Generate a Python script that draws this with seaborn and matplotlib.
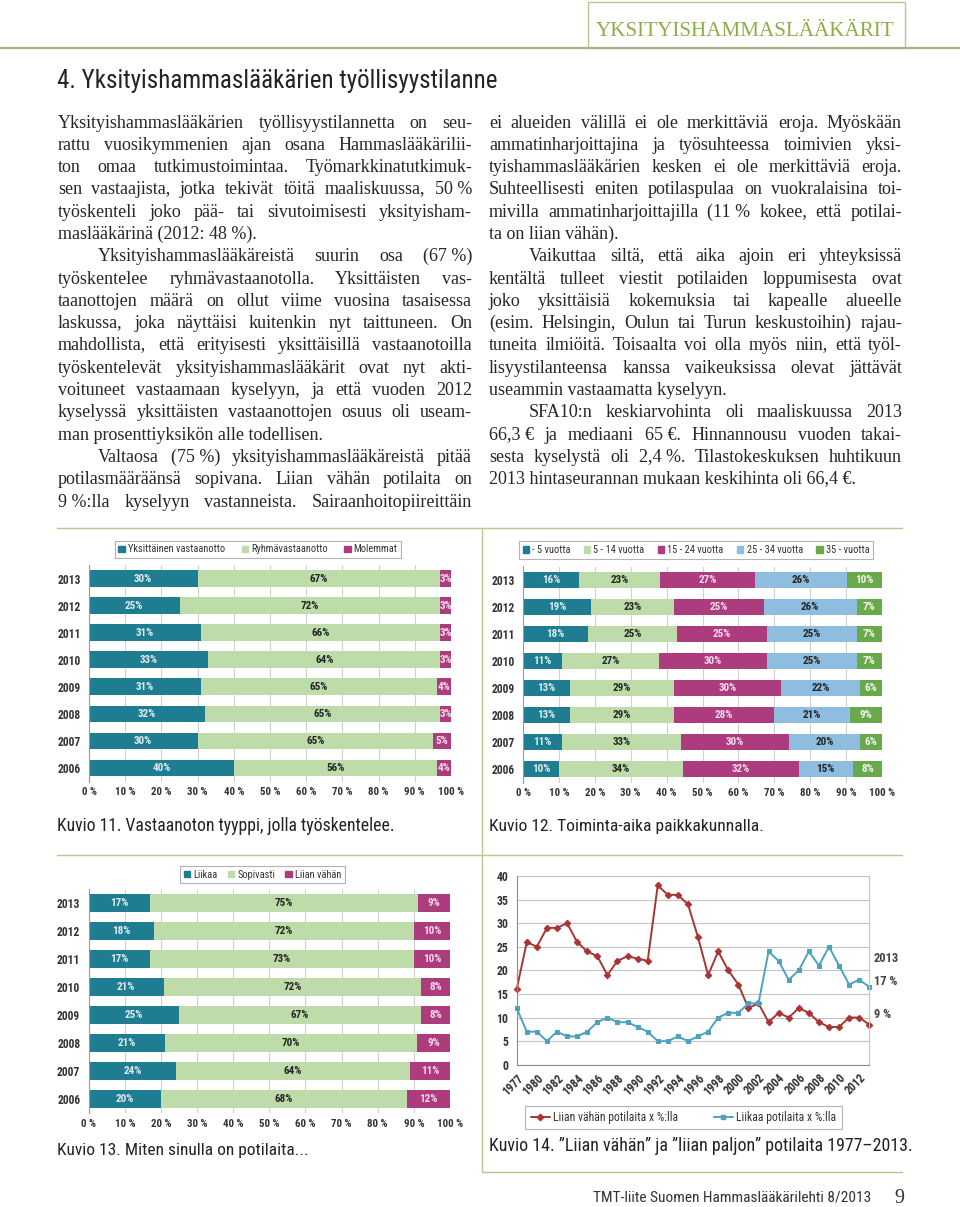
import numpy as np
import pandas as pd
import matplotlib
matplotlib.use("Agg")
import matplotlib.pyplot as plt
import seaborn as sns
from matplotlib import font_manager
from matplotlib.font_manager import FontProperties
from matplotlib.patches import Patch, Rectangle
from matplotlib.lines import Line2D


#--------------------Data-----------------------------------------
years = ["2013", "2012", "2011", "2010", "2009", "2008", "2007", "2006"]
pct_ticks = [0, 10, 20, 30, 40, 50, 60, 70, 80, 90, 100]

# Kuvio 11
k11_names = ["Yksittäinen vastaanotto", "Ryhmävastaanotto", "Molemmat"]
k11_single = [30, 25, 31, 33, 31, 32, 30, 40]
k11_group = [67, 72, 66, 64, 65, 65, 65, 56]
k11_both = [3, 3, 3, 3, 4, 3, 5, 4]

# Kuvio 12
k12_names = ["- 5 vuotta", "5 - 14 vuotta", "15 - 24 vuotta", "25 - 34 vuotta", "35 - vuotta"]
k12_under5 = [16, 19, 18, 11, 13, 13, 11, 10]
k12_5_14 = [23, 23, 25, 27, 29, 29, 33, 34]
k12_15_24 = [27, 25, 25, 30, 30, 28, 30, 32]
k12_25_34 = [26, 26, 25, 25, 22, 21, 20, 15]
k12_over35 = [10, 7, 7, 7, 6, 9, 6, 8]

# Kuvio 13
k13_names = ["Liikaa", "Sopivasti", "Liian vähän"]
k13_too_many = [17, 18, 17, 21, 25, 21, 24, 20]
k13_ok = [75, 72, 73, 72, 67, 70, 64, 68]
k13_too_few = [9, 10, 10, 8, 8, 9, 11, 12]

# Kuvio 14 (no survey in 1978)
k14_years = ["1977", "1979", "1980", "1981", "1982", "1983", "1984", "1985", "1986",
             "1987", "1988", "1989", "1990", "1991", "1992", "1993", "1994", "1995",
             "1996", "1997", "1998", "1999", "2000", "2001", "2002", "2003", "2004",
             "2005", "2006", "2007", "2008", "2009", "2010", "2011", "2012", "2013"]
k14_too_few = [16, 26, 25, 29, 29, 30, 26, 24, 23, 19, 22, 23, 22.5, 22, 38, 36, 36, 34,
               27, 19, 24, 20, 17, 12, 13, 9, 11, 10, 12, 11, 9, 8, 8, 10, 10, 8.5]
k14_too_many = [12, 7, 7, 5, 7, 6, 6, 7, 9, 10, 9, 9, 8, 7, 5, 5, 6, 5,
                6, 7, 10, 11, 11, 13, 13, 24, 22, 18, 20, 24, 21, 25, 21, 17, 18, 16.5]
k14_names = ["Liian vähän potilaita x %:lla", "Liikaa potilaita x %:lla"]
k14_yticks = [0, 5, 10, 15, 20, 25, 30, 35, 40]

#--------------------Body text-----------------------
left_lines = [
    ("J", "Yksityishammaslääkärien työllisyystilannetta on seu-"),
    ("J", "rattu vuosikymmenien ajan osana Hammaslääkärilii-"),
    ("J", "ton omaa tutkimustoimintaa. Työmarkkinatutkimuk-"),
    ("J", "sen vastaajista, jotka tekivät töitä maaliskuussa, 50 %"),
    ("J", "työskenteli joko pää- tai sivutoimisesti yksityisham-"),
    ("L", "maslääkärinä (2012: 48 %)."),
    ("I", "Yksityishammaslääkäreistä suurin osa (67 %)"),
    ("J", "työskentelee ryhmävastaanotolla. Yksittäisten vas-"),
    ("J", "taanottojen määrä on ollut viime vuosina tasaisessa"),
    ("J", "laskussa, joka näyttäisi kuitenkin nyt taittuneen. On"),
    ("J", "mahdollista, että erityisesti yksittäisillä vastaanotoilla"),
    ("J", "työskentelevät yksityishammaslääkärit ovat nyt akti-"),
    ("J", "voituneet vastaamaan kyselyyn, ja että vuoden 2012"),
    ("J", "kyselyssä yksittäisten vastaanottojen osuus oli useam-"),
    ("L", "man prosenttiyksikön alle todellisen."),
    ("I", "Valtaosa (75 %) yksityishammaslääkäreistä pitää"),
    ("J", "potilasmääräänsä sopivana. Liian vähän potilaita on"),
    ("J", "9 %:lla kyselyyn vastanneista. Sairaanhoitopiireittäin"),
]
right_lines = [
    ("J", "ei alueiden välillä ei ole merkittäviä eroja. Myöskään"),
    ("J", "ammatinharjoittajina ja työsuhteessa toimivien yksi-"),
    ("J", "tyishammaslääkärien kesken ei ole merkittäviä eroja."),
    ("J", "Suhteellisesti eniten potilaspulaa on vuokralaisina toi-"),
    ("J", "mivilla ammatinharjoittajilla (11 % kokee, että potilai-"),
    ("L", "ta on liian vähän)."),
    ("I", "Vaikuttaa siltä, että aika ajoin eri yhteyksissä"),
    ("J", "kentältä tulleet viestit potilaiden loppumisesta ovat"),
    ("J", "joko yksittäisiä kokemuksia tai kapealle alueelle"),
    ("J", "(esim. Helsingin, Oulun tai Turun keskustoihin) rajau-"),
    ("J", "tuneita ilmiöitä. Toisaalta voi olla myös niin, että työl-"),
    ("J", "lisyystilanteensa kanssa vaikeuksissa olevat jättävät"),
    ("L", "useammin vastaamatta kyselyyn."),
    ("I", "SFA10:n keskiarvohinta oli maaliskuussa 2013"),
    ("J", "66,3 € ja mediaani 65 €. Hinnannousu vuoden takai-"),
    ("J", "sesta kyselystä oli 2,4 %. Tilastokeskuksen huhtikuun"),
    ("L", "2013 hintaseurannan mukaan keskihinta oli 66,4 €."),
]

#--------------------Colours and fonts-----------------------
teal = "#1f7d91"
light_green = "#bddca9"
magenta = "#ad3c7e"
light_blue = "#8fbde0"
green = "#69a94b"
red_line = "#a83434"
blue_line = "#4da2c0"
rule_col = "#bcc48f"
ink = "#262626"
on_dark = "#dceaef"
on_magenta = "#f5dbe8"

sns.set_style("white")
installed = {f.name for f in font_manager.fontManager.ttflist}
cond = next((n for n in ["Liberation Sans Narrow", "Roboto Condensed", "Open Sans Condensed",
                         "Liberation Sans"] if n in installed), "DejaVu Sans")
serif = "Liberation Serif"
plt.rcParams["font.family"] = [cond, "DejaVu Sans"]

W, H = 960, 1207
fig = plt.figure(figsize=(W / 100, H / 100), dpi=100)
renderer = fig.canvas.get_renderer()


def fx(x):
    return x / W


def fy(y):
    return 1 - y / H


def px_axes(left, top, right, bottom):
    return fig.add_axes([fx(left), fy(bottom), (right - left) / W, (bottom - top) / H])


def rule(x0, x1, y0, y1, **kw):
    fig.add_artist(Line2D([fx(x0), fx(x1)], [fy(y0), fy(y1)], transform=fig.transFigure, **kw))


def fit_text(x0, x1, y, s, **kw):
    # scale the font so the text spans x0..x1 like on the page
    t = fig.text(fx(x0), fy(y), s, va="baseline", ha="left", **kw)
    w = t.get_window_extent(renderer).width
    t.set_fontsize(t.get_fontsize() * (x1 - x0) / w)
    return t


def baseline_shift(word, prop):
    # Agg places each word bitmap by its own descent; undo the 1px rounding jump
    _, h, d = renderer.get_text_width_height_descent(word, prop, ismath=False)
    return round(d) - np.floor(h) + np.floor(h - d)


def column(lines, x0, x1, y0, dy, size=13, indent=40):
    prop = FontProperties(family=serif, size=size)
    for i, (kind, s) in enumerate(lines):
        y = round(y0 + i * dy)
        left = x0 + (indent if kind == "I" else 0)
        s = s.replace(" %", "\u00a0%").replace(" €", "\u00a0€")
        words = [s] if kind == "L" else s.split(" ")
        texts = [fig.text(0, fy(y - baseline_shift(w, prop)), w, va="baseline",
                          fontproperties=prop, color=ink) for w in words]
        widths = [t.get_window_extent(renderer).width for t in texts]
        gap = 0 if kind == "L" else (x1 - left - sum(widths)) / (len(words) - 1)
        x = left
        for t, w in zip(texts, widths):
            t.set_x(fx(x))
            x += w + gap


def stacked(ax, names, parts, colors, label_colors):
    data = pd.DataFrame(dict(zip(names, parts)), index=years)
    shares = data.div(data.sum(axis=1), axis=0) * 100
    ends = shares.cumsum(axis=1)
    # draw the running totals from the longest down so each segment shows
    for name, col in reversed(list(zip(names, colors))):
        sns.barplot(x=ends[name].values, y=years, orient="h", color=col, saturation=1,
                    width=0.62, errorbar=None, linewidth=0, ax=ax)
    for i, yr in enumerate(years):
        for name, tc in zip(names, label_colors):
            mid = ends.loc[yr, name] - shares.loc[yr, name] / 2
            ax.text(mid, i, f"{data.loc[yr, name]}%", ha="center", va="center",
                    color=tc, fontsize=8, fontweight="bold")
    ax.set_xlim(0, 100)
    ax.set_ylim(len(years) - 0.5, -0.5)
    ax.set_xticks(pct_ticks)
    ax.set_xticklabels([f"{p} %" for p in pct_ticks])
    ax.set_xlabel("")
    ax.set_ylabel("")
    ax.set_axisbelow(True)
    ax.xaxis.grid(True, color="#d0d0d0", lw=0.8)
    ax.yaxis.grid(False)
    for s in ["top", "right", "bottom"]:
        ax.spines[s].set_visible(False)
    ax.spines["left"].set_color("#9a9a9a")
    ax.tick_params(axis="x", length=0, pad=4, labelsize=7.8, labelcolor="#333333")
    ax.tick_params(axis="y", length=0, pad=6, labelsize=8.3, labelcolor="#333333")
    ax.set_yticks(np.arange(len(years) + 1) - 0.5, minor=True)
    ax.tick_params(axis="y", which="minor", length=4, color="#9a9a9a")
    for lab in ax.get_xticklabels() + ax.get_yticklabels():
        lab.set_fontweight("bold")


def box_legend(handles, labels, cx, cy, ncol, size=7.5, **kw):
    leg = fig.legend(handles, labels, loc="center", bbox_to_anchor=(fx(cx), fy(cy)), ncol=ncol,
                     frameon=True, fancybox=False, edgecolor="#a0a0a0",
                     prop={"family": cond, "size": size}, **kw)
    leg.get_frame().set_linewidth(0.8)
    for t in leg.get_texts():
        t.set_color("#333333")


#--------------------Page furniture-----------------------
rule(0, 960, 48, 48, color="#a9b08c", lw=1.6)
fig.add_artist(Rectangle((fx(588), fy(48)), (905 - 588) / W, 46 / H, transform=fig.transFigure,
                         fill=False, edgecolor=rule_col, lw=1))
fit_text(596, 897, 36, "YKSITYISHAMMASLÄÄKÄRIT", family=serif, fontsize=15, color="#8cae48")
fit_text(57, 500, 88, "4. Yksityishammaslääkärien työllisyystilanne", family=cond, fontsize=14, color="#222222")

column(left_lines, 58, 472, 127.5, 22.3)
column(right_lines, 489, 902, 127.5, 22.3)

rule(57, 902, 528, 528, color=rule_col, lw=1)
rule(57, 902, 855, 855, color=rule_col, lw=1)
rule(482, 482, 528, 1172, color=rule_col, lw=1)
rule(482, 902, 1172, 1172, color=rule_col, lw=1)

#--------------------Kuvio 11-----------------------
ax1 = px_axes(89, 565, 451, 781.6)
stacked(ax1, k11_names, [k11_single, k11_group, k11_both],
        [teal, light_green, magenta], [on_dark, ink, on_magenta])
box_legend([Patch(color=c) for c in [teal, light_green, magenta]], k11_names, 258, 549.5, 3,
           borderpad=0.35, handlelength=0.6, handleheight=0.6, handletextpad=0.3, columnspacing=1.6)
fit_text(57, 393, 831, "Kuvio 11. Vastaanoton tyyppi, jolla työskentelee.", family=cond, fontsize=11, color="#222222")

#--------------------Kuvio 12-----------------------
ax2 = px_axes(523, 566.5, 882, 782.5)
stacked(ax2, k12_names, [k12_under5, k12_5_14, k12_15_24, k12_25_34, k12_over35],
        [teal, light_green, magenta, light_blue, green],
        [on_dark, ink, on_magenta, ink, "#eef6e8"])
box_legend([Patch(color=c) for c in [teal, light_green, magenta, light_blue, green]], k12_names,
           696, 550, 5, borderpad=0.35, handlelength=0.6, handleheight=0.6, handletextpad=0.3,
           columnspacing=1.3)
fit_text(489, 762, 831, "Kuvio 12. Toiminta-aika paikkakunnalla.", family=cond, fontsize=11, color="#222222")

#--------------------Kuvio 13-----------------------
ax3 = px_axes(88.7, 889, 450, 1113)
stacked(ax3, k13_names, [k13_too_many, k13_ok, k13_too_few],
        [teal, light_green, magenta], [on_dark, ink, on_magenta])
box_legend([Patch(color=c) for c in [teal, light_green, magenta]], k13_names, 262.5, 874.5, 3,
           borderpad=0.35, handlelength=0.6, handleheight=0.6, handletextpad=0.3, columnspacing=1.0)
fit_text(57, 307, 1155, "Kuvio 13. Miten sinulla on potilaita...", family=cond, fontsize=11, color="#222222")

#--------------------Kuvio 14-----------------------
ax4 = px_axes(516.7, 876, 869.3, 1064.7)
pos = np.arange(len(k14_years))
sns.lineplot(x=pos, y=k14_too_few, color=red_line, marker="D", markersize=3.3,
             markeredgecolor=red_line, linewidth=1.4, ax=ax4)
sns.lineplot(x=pos, y=k14_too_many, color=blue_line, marker="s", markersize=2.9,
             markeredgecolor=blue_line, linewidth=1.4, ax=ax4)
for ln in ax4.lines:
    ln.set_clip_on(False)
ax4.set_xlim(0, len(pos) - 1)
ax4.set_ylim(0, 40)
ax4.set_yticks(k14_yticks)
ax4.set_xticks(pos[::2])
ax4.set_xticklabels(k14_years[::2], rotation=45, ha="right", rotation_mode="anchor")
ax4.set_xticks(pos, minor=True)
ax4.yaxis.grid(True, color="#c4c4c4", lw=0.8)
ax4.xaxis.grid(False)
ax4.spines["top"].set_visible(False)
ax4.spines["right"].set_color("#c4c4c4")
for s in ["left", "bottom"]:
    ax4.spines[s].set_color("#8c8c8c")
ax4.tick_params(axis="x", which="both", length=3, color="#8c8c8c", pad=2, labelsize=8.5, labelcolor="#333333")
ax4.tick_params(axis="y", length=3, color="#8c8c8c", pad=3, labelsize=8.5, labelcolor="#333333")
for lab in ax4.get_xticklabels() + ax4.get_yticklabels():
    lab.set_fontweight("bold")
for txt, yy in [("2013", 962), ("17 %", 985), ("9 %", 1018)]:
    fig.text(fx(874), fy(yy), txt, va="baseline", fontsize=9, fontweight="bold", color="#444444")
box_legend([Line2D([0], [0], color=red_line, marker="D", markersize=3.3, lw=1.4),
            Line2D([0], [0], color=blue_line, marker="s", markersize=2.9, lw=1.4)],
           k14_names, 683.5, 1117.5, 2, size=8.5, borderpad=0.45, handlelength=1.6,
           handletextpad=0.3, columnspacing=3.0)
fit_text(489, 910, 1151, "Kuvio 14. ”Liian vähän” ja ”liian paljon” potilaita 1977–2013.",
         family=cond, fontsize=11, color="#222222")

#--------------------Footer-----------------------
fit_text(593, 870, 1202, "TMT-liite Suomen Hammaslääkärilehti 8/2013", family=cond, fontsize=10, color="#333333")
fig.text(fx(894), fy(1203), "9", va="baseline", family=serif, fontsize=14.5, color="#333333")

fig.savefig("out.png", dpi=100)
